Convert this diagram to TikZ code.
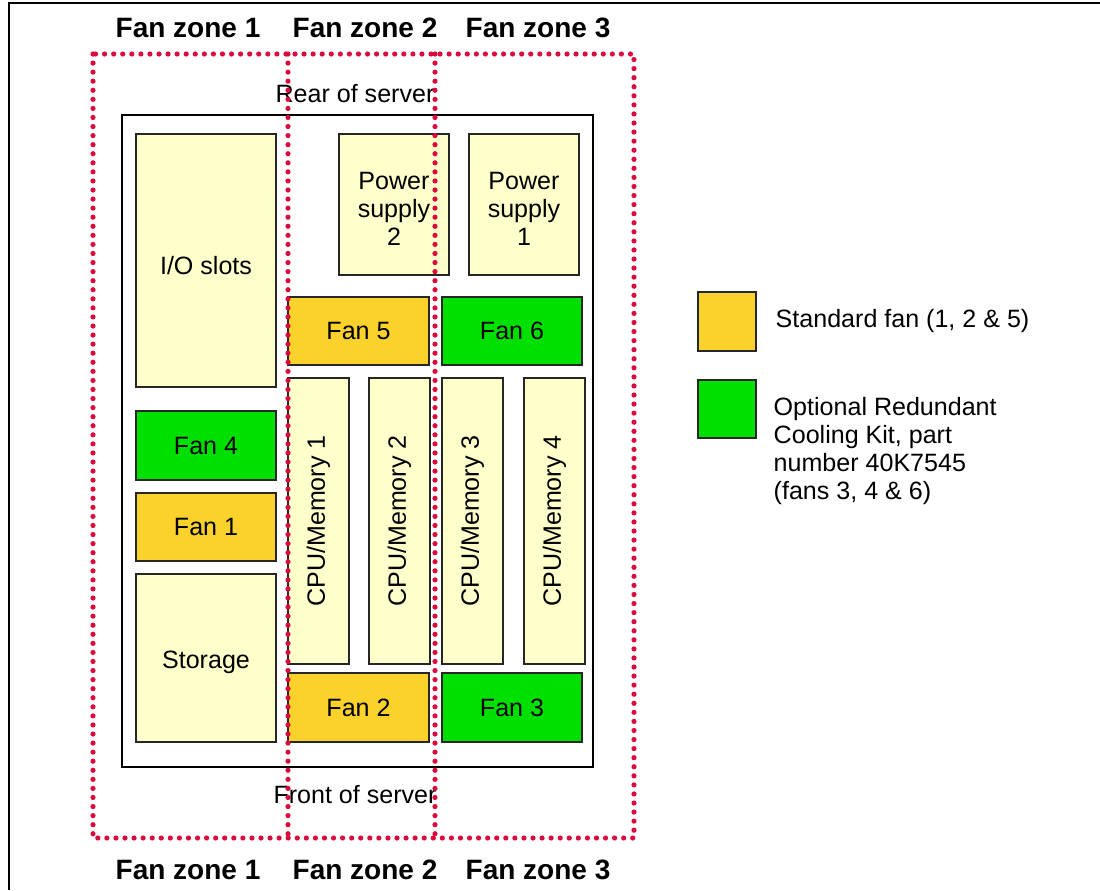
\documentclass[tikz,border=0pt]{standalone}
\usepackage{fontspec}
\setmainfont{Liberation Sans}
\usetikzlibrary{positioning}
\definecolor{cream}{HTML}{FFFFCC}
\definecolor{fanyellow}{HTML}{FBD12B}
\definecolor{fangreen}{HTML}{00E000}
\definecolor{zonered}{HTML}{DC0A3C}

\begin{document}
\begin{tikzpicture}[
    x=0.75pt, y=-0.75pt,
    every node/.style = {align=center, font=\fontsize{18.8}{21}\selectfont},
    part/.style       = {draw=black!85, line width=0.9pt, fill=cream, inner sep=0pt},
    stdfan/.style     = {part, fill=fanyellow},
    optfan/.style     = {part, fill=fangreen},
    wd/.style         = {minimum width=#1*0.75pt},
    ht/.style         = {minimum height=#1*0.75pt},
    lowtext/.style    = {label={[yshift=-3.5pt]center:#1}},
    zonelabel/.style  = {font=\fontsize{21}{24}\selectfont\bfseries},
    zoneline/.style   = {draw=zonered, line width=3.9pt, line cap=round,
                         dash pattern=on 0pt off 6.8pt},
]
\useasboundingbox (0,0) rectangle (1100,890);

%% Page frame
\draw[line width=1.5pt] (9,890) -- (9,3) -- (1100,3);

%% Server chassis
\node[draw, line width=1.1pt, wd=471, ht=652, inner sep=0pt] (server) at (357.5,441) {};
\node (rear)  at (355,94)  {Rear of server};
\node (front) at (355,795) {Front of server};

%% Left column
\node[part,   wd=140, ht=253, lowtext={I/O slots}] (io)   at (206,260.5) {};
\node[optfan, wd=140, ht=69]  (fan4) at (206,445.5) {Fan 4};
\node[stdfan, wd=140, ht=68]  (fan1) at (206,527)   {Fan 1};
\node[part,   wd=140, ht=168, lowtext={Storage}]   (stor) at (206,658)   {};

%% Power supplies
\node[part, wd=110, ht=141, lowtext={Power\\supply\\2}] (ps2) at (394,204.5) {};
\node[part, wd=110, ht=141, lowtext={Power\\supply\\1}] (ps1) at (524,204.5) {};

%% Rear fans
\node[stdfan, wd=141, ht=68] (fan5) at (358.5,331) {Fan 5};
\node[optfan, wd=140, ht=68] (fan6) at (512,331)   {Fan 6};

%% CPU/Memory cards
\node[part, rotate=90, wd=286, ht=61] (cpu1) at (318.5,521) {CPU/Memory 1};
\node[part, rotate=90, wd=286, ht=61] (cpu2) at (399.5,521) {CPU/Memory 2};
\node[part, rotate=90, wd=286, ht=61] (cpu3) at (472.5,521) {CPU/Memory 3};
\node[part, rotate=90, wd=286, ht=61] (cpu4) at (554.5,521) {CPU/Memory 4};

%% Front fans
\node[stdfan, wd=141, ht=69] (fan2) at (358.5,707.5) {Fan 2};
\node[optfan, wd=140, ht=69] (fan3) at (512,707.5)   {Fan 3};

%% Fan zones
\coordinate (ztl) at (93,54);
\coordinate (zbr) at (634,838);
\coordinate (z12) at (288,54);
\coordinate (z23) at (435,54);
\draw[zoneline] (ztl) rectangle (zbr);
\draw[zoneline] (z12) -- (z12 |- zbr);
\draw[zoneline] (z23) -- (z23 |- zbr);

\node[zonelabel] (zt1) at (188,28)  {Fan zone 1};
\node[zonelabel] (zt2) at (365,28)  {Fan zone 2};
\node[zonelabel] (zt3) at (538,28)  {Fan zone 3};
\node[zonelabel] (zb1) at (188,870) {Fan zone 1};
\node[zonelabel] (zb2) at (365,870) {Fan zone 2};
\node[zonelabel] (zb3) at (538,870) {Fan zone 3};

%% Legend
\node[stdfan, wd=58, ht=59] (keystd) at (727,321.5) {};
\node[optfan, wd=58, ht=58] (keyopt) at (727,409)   {};
\node[anchor=west] (txtstd) at (771,321) {Standard fan (1, 2 \& 5)};
\node[anchor=west, align=left, font=\fontsize{18.8}{20.8}\selectfont] (txtopt) at (769,451)
    {Optional Redundant\\Cooling Kit, part\\number 40K7545\\(fans 3, 4 \& 6)};

\end{tikzpicture}
\end{document}
